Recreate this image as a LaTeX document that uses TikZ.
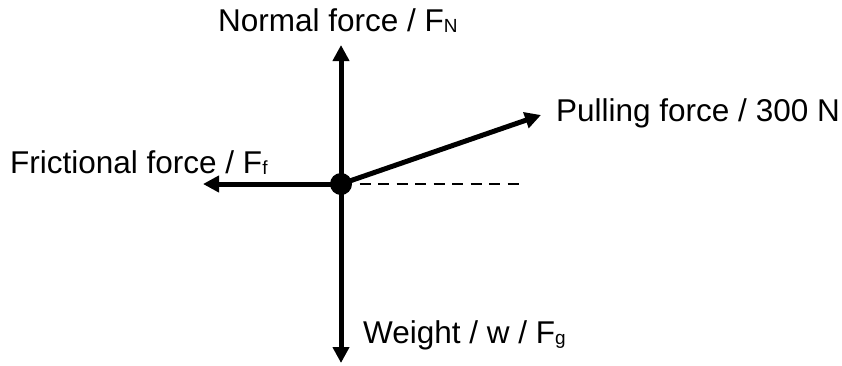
\documentclass[tikz,border=0pt]{standalone}
\usepackage{fontspec}
\setmainfont{Liberation Sans}
\usetikzlibrary{arrows.meta}
\newcommand{\subs}[1]{\raisebox{-1.5pt}{\fontsize{19}{19}\selectfont #1}}
\begin{document}
\begin{tikzpicture}[x=1pt,y=-1pt,
  force/.style={line width=5pt,-{Triangle[length=16pt,width=16pt]}},
  lbl/.style={inner sep=0pt,font=\fontsize{31.5}{31.5}\selectfont},
  dashline/.style={line width=2.5pt,dash pattern=on 11pt off 7.5pt}]
\useasboundingbox (0,0) rectangle (842,365);
\coordinate (O) at (341,184);
\coordinate (up) at (341,45);
\coordinate (down) at (341,363);
\coordinate (left) at (203,184);
\coordinate (pull) at (541,115);
\coordinate (dashend) at (521,184);
\draw[dashline] (O) -- (dashend);
\draw[force] (O) -- (up);
\draw[force] (O) -- (down);
\draw[force] (O) -- (left);
\draw[force] (O) -- (pull);
\fill (O) circle (11);
\node[lbl,anchor=base west] (tN) at (218,31) {Normal force / F\subs{N}};
\node[lbl,anchor=base west] (tP) at (556,121) {Pulling force / 300 N};
\node[lbl,anchor=base west] (tF) at (10,173) {Frictional force / F\subs{f}};
\node[lbl,anchor=base west] (tW) at (363,343) {Weight / w / F\subs{g}};
\end{tikzpicture}
\end{document}
